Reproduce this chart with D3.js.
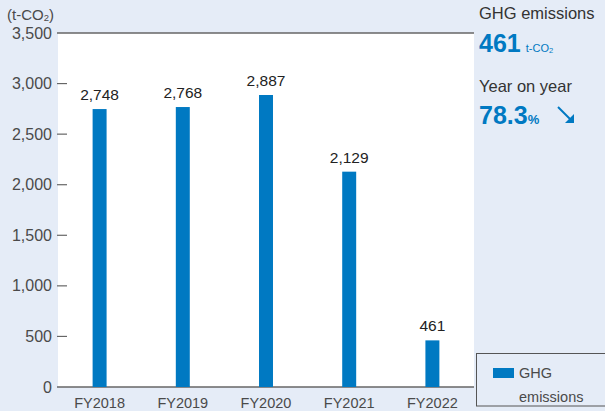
<!DOCTYPE html>
<html>
<head>
<meta charset="utf-8">
<script src="https://cdn.jsdelivr.net/npm/d3@7/dist/d3.min.js"></script>
<style>
  html, body { margin: 0; padding: 0; background: #e5ecf7; }
  svg { display: block; font-family: "Liberation Sans", Arial, sans-serif; }
</style>
</head>
<body>
<svg id="chart" width="605" height="411"></svg>
<script>
// GHG emissions by fiscal year (t-CO2)
const years = ["FY2018", "FY2019", "FY2020", "FY2021", "FY2022"];
const emissions = [2748, 2768, 2887, 2129, 461];
const yTicks = [0, 500, 1000, 1500, 2000, 2500, 3000, 3500];
const latestValue = "461";
const yearOnYear = "78.3";

const W = 605, H = 411;
const plot = { left: 58, right: 474, top: 33, bottom: 387 };
const blue = "#0079c2";

const svg = d3.select("#chart");

svg.append("rect").attr("width", W).attr("height", H).attr("fill", "#e5ecf7");
svg.append("rect")
  .attr("x", plot.left).attr("y", plot.top)
  .attr("width", plot.right - plot.left).attr("height", plot.bottom - plot.top)
  .attr("fill", "#ffffff");

const x = d3.scaleBand().domain(years).range([plot.left, plot.right]).paddingInner(0.832).paddingOuter(0.416);
const y = d3.scaleLinear().domain([0, 3500]).range([plot.bottom, plot.top]);

// y axis: ticks and labels
const yAxis = svg.append("g");
yAxis.selectAll("line.tick").data(yTicks.filter(d => d > 0 && d < 3500)).join("line")
  .attr("x1", plot.left - 1).attr("x2", plot.left + 9)
  .attr("y1", d => y(d)).attr("y2", d => y(d))
  .attr("stroke", "#666").attr("stroke-width", 1.2);
yAxis.selectAll("text").data(yTicks).join("text")
  .attr("x", 52).attr("y", d => y(d) + 5.5)
  .attr("text-anchor", "end").attr("font-size", 16).attr("fill", "#4a4a4a")
  .text(d => d3.format(",")(d));

// top and baseline rules
svg.append("line").attr("x1", plot.left - 1).attr("x2", plot.right)
  .attr("y1", y(3500)).attr("y2", y(3500)).attr("stroke", "#666").attr("stroke-width", 1.5);
svg.append("line").attr("x1", plot.left - 1).attr("x2", plot.right)
  .attr("y1", y(0)).attr("y2", y(0)).attr("stroke", "#666").attr("stroke-width", 1.5);

// unit label
const unit = svg.append("text").attr("x", 7).attr("y", 20).attr("font-size", 15).attr("fill", "#4a4a4a");
unit.append("tspan").text("(t-CO");
unit.append("tspan").attr("font-size", 9.5).attr("dy", 1).text("2");
unit.append("tspan").attr("dy", -1).text(")");

// bars
svg.selectAll("rect.bar").data(emissions).join("rect")
  .attr("class", "bar")
  .attr("x", (d, i) => x(years[i]))
  .attr("width", x.bandwidth())
  .attr("y", d => y(d))
  .attr("height", d => y(0) - y(d))
  .attr("fill", blue);

// value labels
svg.selectAll("text.val").data(emissions).join("text")
  .attr("class", "val")
  .attr("x", (d, i) => x(years[i]) + x.bandwidth() / 2)
  .attr("y", d => y(d) - 9)
  .attr("text-anchor", "middle").attr("font-size", 15.5).attr("fill", "#222")
  .text(d => d3.format(",")(d));

// category labels
svg.selectAll("text.cat").data(years).join("text")
  .attr("class", "cat")
  .attr("x", d => x(d) + x.bandwidth() / 2)
  .attr("y", 408)
  .attr("text-anchor", "middle").attr("font-size", 14.5).attr("fill", "#4a4a4a")
  .text(d => d);

// summary panel
const panelX = 479;
svg.append("text").attr("x", panelX).attr("y", 19).attr("font-size", 16.5).attr("fill", "#333")
  .text("GHG emissions");
const v = svg.append("text").attr("x", panelX).attr("y", 52).attr("fill", blue).attr("font-weight", "bold");
v.append("tspan").attr("font-size", 25).text(latestValue);
v.append("tspan").attr("font-size", 11).attr("font-weight", "normal").attr("dx", 5).text("t-CO");
v.append("tspan").attr("font-size", 7.5).attr("font-weight", "normal").attr("dy", 1).text("2");

svg.append("text").attr("x", panelX).attr("y", 92).attr("font-size", 16.5).attr("fill", "#333")
  .text("Year on year");
const p = svg.append("text").attr("x", panelX).attr("y", 124).attr("fill", blue).attr("font-weight", "bold");
p.append("tspan").attr("font-size", 25).text(yearOnYear);
p.append("tspan").attr("font-size", 13).text("%");

// down-right arrow
const ax0 = 558, ay0 = 107, ax1 = 574, ay1 = 123;
svg.append("line").attr("x1", ax0).attr("y1", ay0).attr("x2", ax1 - 2).attr("y2", ay1 - 2)
  .attr("stroke", blue).attr("stroke-width", 2);
svg.append("path")
  .attr("d", `M${ax1},${ay1} L${ax1 - 9},${ay1} L${ax1},${ay1 - 9} Z`)
  .attr("fill", blue);

// legend
svg.append("rect").attr("x", 476.5).attr("y", 353.5).attr("width", 140).attr("height", 52.5)
  .attr("fill", "#e5ecf7").attr("stroke", "#555").attr("stroke-width", 1);
svg.append("rect").attr("x", 493).attr("y", 368).attr("width", 21).attr("height", 10).attr("fill", blue);
svg.append("text").attr("x", 519).attr("y", 378).attr("font-size", 14.5).attr("fill", "#4a4a4a").text("GHG");
svg.append("text").attr("x", 519).attr("y", 402).attr("font-size", 14.5).attr("fill", "#4a4a4a").text("emissions");
</script>
</body>
</html>
